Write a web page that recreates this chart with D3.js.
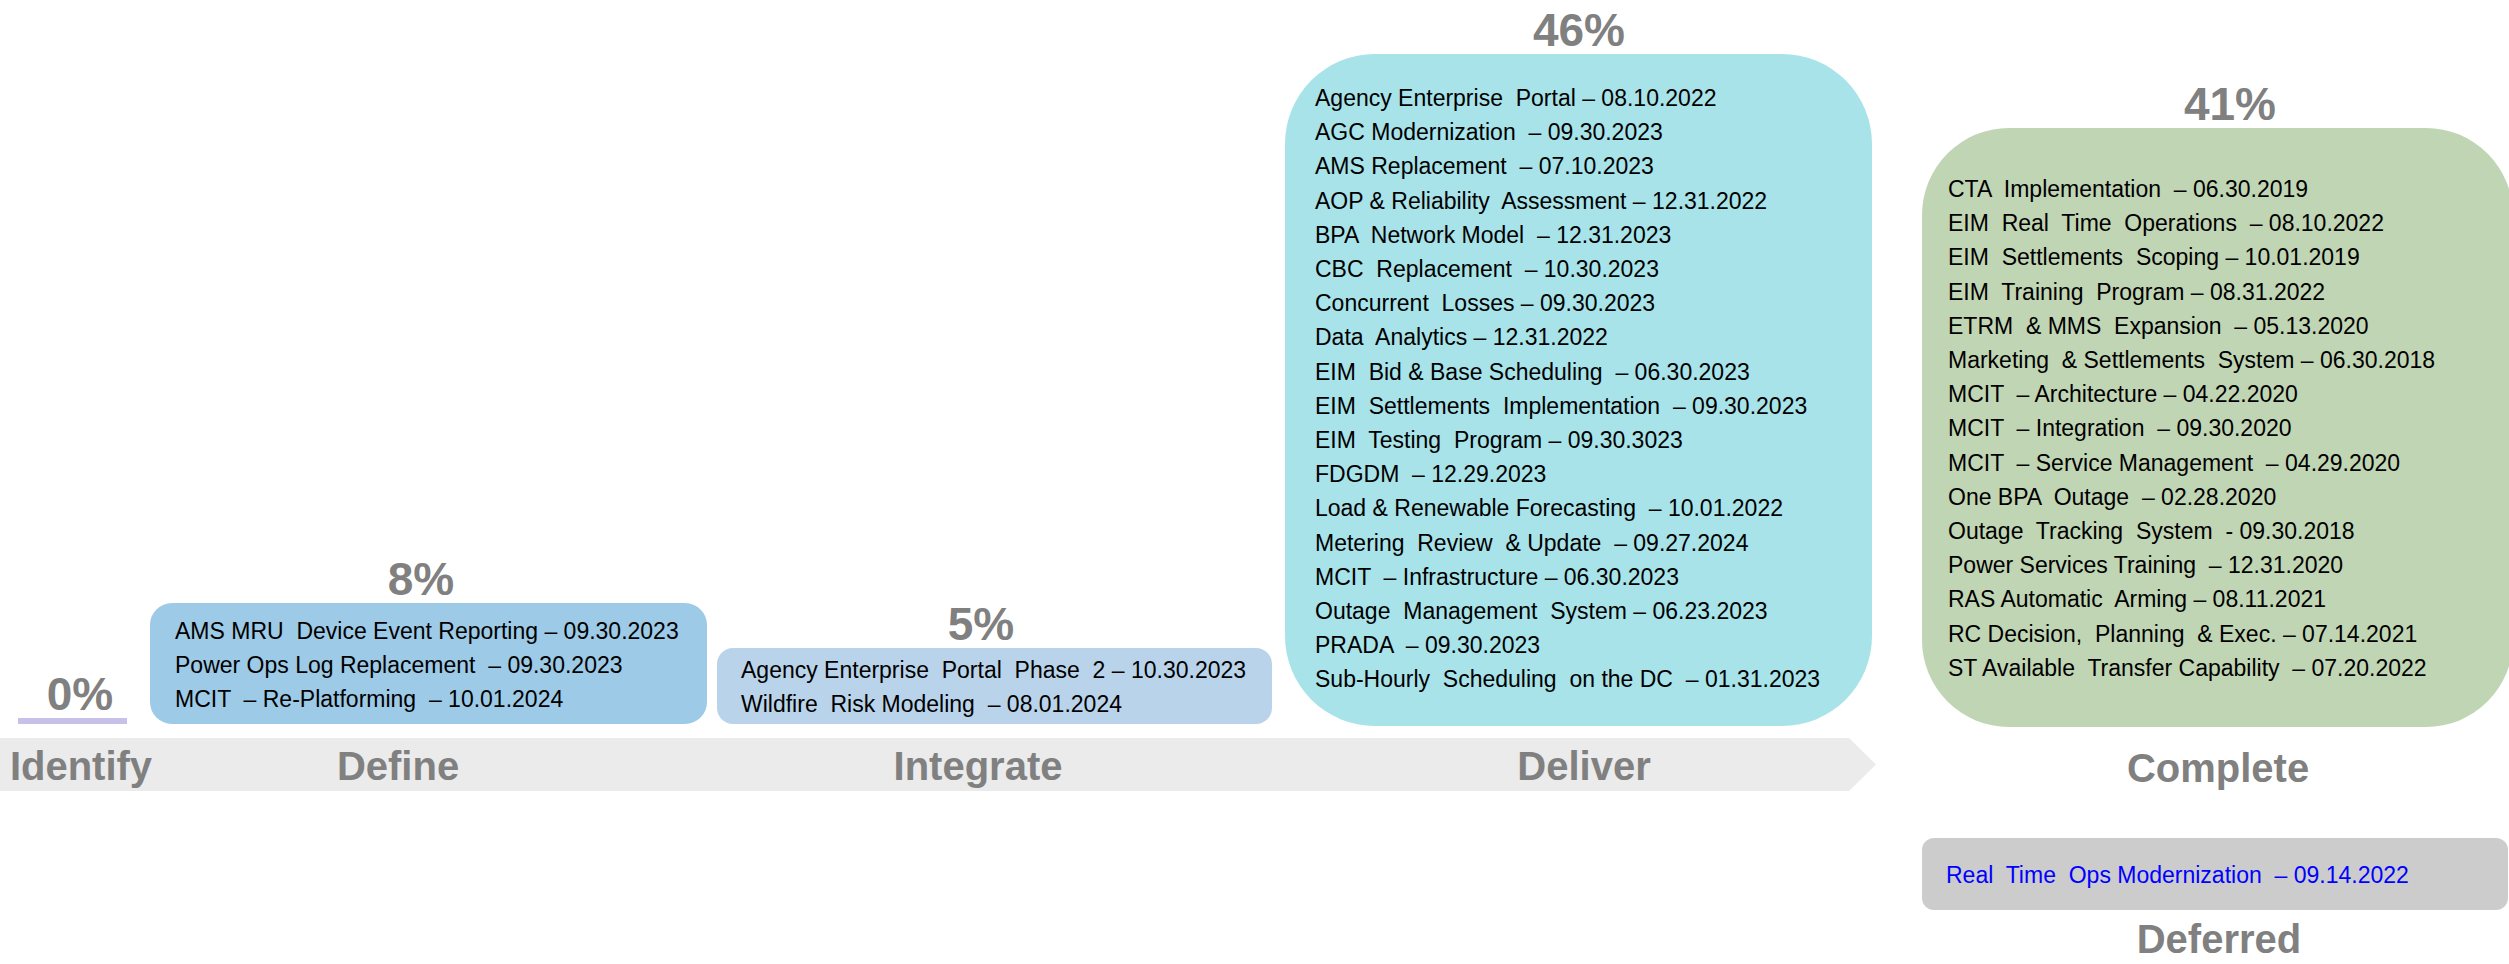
<!DOCTYPE html>
<html>
<head>
<meta charset="utf-8">
<script src="https://cdn.jsdelivr.net/npm/d3@7"></script>
<style>
  html, body { margin: 0; padding: 0; background: #ffffff; }
  svg { display: block; }
  text { font-family: "Liberation Sans", Arial, sans-serif; white-space: pre; }
</style>
</head>
<body>
<div id="chart"></div>
<script>
// ---------------- DATA ----------------
const stageNames = ["Identify", "Define", "Integrate", "Deliver", "Complete", "Deferred"];
const stagePercents = ["0%", "8%", "5%", "46%", "41%", ""];

const identifyItems = [];
const defineItems = [
  "AMS MRU  Device Event Reporting – 09.30.2023",
  "Power Ops Log Replacement  – 09.30.2023",
  "MCIT  – Re-Platforming  – 10.01.2024"
];
const integrateItems = [
  "Agency Enterprise  Portal  Phase  2 – 10.30.2023",
  "Wildfire  Risk Modeling  – 08.01.2024"
];
const deliverItems = [
  "Agency Enterprise  Portal – 08.10.2022",
  "AGC Modernization  – 09.30.2023",
  "AMS Replacement  – 07.10.2023",
  "AOP & Reliability  Assessment – 12.31.2022",
  "BPA  Network Model  – 12.31.2023",
  "CBC  Replacement  – 10.30.2023",
  "Concurrent  Losses – 09.30.2023",
  "Data  Analytics – 12.31.2022",
  "EIM  Bid & Base Scheduling  – 06.30.2023",
  "EIM  Settlements  Implementation  – 09.30.2023",
  "EIM  Testing  Program – 09.30.3023",
  "FDGDM  – 12.29.2023",
  "Load & Renewable Forecasting  – 10.01.2022",
  "Metering  Review  & Update  – 09.27.2024",
  "MCIT  – Infrastructure – 06.30.2023",
  "Outage  Management  System – 06.23.2023",
  "PRADA  – 09.30.2023",
  "Sub-Hourly  Scheduling  on the DC  – 01.31.2023"
];
const completeItems = [
  "CTA  Implementation  – 06.30.2019",
  "EIM  Real  Time  Operations  – 08.10.2022",
  "EIM  Settlements  Scoping – 10.01.2019",
  "EIM  Training  Program – 08.31.2022",
  "ETRM  & MMS  Expansion  – 05.13.2020",
  "Marketing  & Settlements  System – 06.30.2018",
  "MCIT  – Architecture – 04.22.2020",
  "MCIT  – Integration  – 09.30.2020",
  "MCIT  – Service Management  – 04.29.2020",
  "One BPA  Outage  – 02.28.2020",
  "Outage  Tracking  System  - 09.30.2018",
  "Power Services Training  – 12.31.2020",
  "RAS Automatic  Arming – 08.11.2021",
  "RC Decision,  Planning  & Exec. – 07.14.2021",
  "ST Available  Transfer Capability  – 07.20.2022"
];
const deferredItems = [
  "Real  Time  Ops Modernization  – 09.14.2022"
];
const stageItems = [identifyItems, defineItems, integrateItems, deliverItems, completeItems, deferredItems];

// ---------------- LAYOUT / STYLE ----------------
const W = 2509, H = 964;
const lineStep = 34.2;
const layout = {
  Identify:  { labelX: 81,   labelY: 780, pctX: 80,   marker: { x0: 18, x1: 127, y: 718, h: 6, fill: "#c7c0e8" } },
  Define:    { labelX: 398,  labelY: 780, pctX: 421,  box: { x0: 150,  x1: 707,  y0: 603, y1: 724, r: 22, fill: "#9dcae6" }, textX: 175,  firstBase: 639 },
  Integrate: { labelX: 978,  labelY: 780, pctX: 981,  box: { x0: 717,  x1: 1272, y0: 648, y1: 724, r: 16, fill: "#b9d4ea" }, textX: 741,  firstBase: 678 },
  Deliver:   { labelX: 1584, labelY: 780, pctX: 1579, box: { x0: 1285, x1: 1872, y0: 54,  y1: 726, r: 90, fill: "#a7e3e9" }, textX: 1315, firstBase: 106 },
  Complete:  { labelX: 2218, labelY: 782, pctX: 2230, box: { x0: 1922, x1: 2513, y0: 128, y1: 727, r: 87, fill: "#c0d5b4" }, textX: 1948, firstBase: 197 },
  Deferred:  { labelX: 2219, labelY: 953, pctX: 2219, box: { x0: 1922, x1: 2508, y0: 838, y1: 910, r: 12, fill: "#cccccc" }, textX: 1946, firstBase: 883, color: "#0000ff" }
};
const band = { x0: 0, x1: 1849, tip: 1876, y0: 738, y1: 791, fill: "#ebebeb" };
const grayText = "#808080";

// ---------------- DRAW ----------------
const svg = d3.select("#chart").append("svg").attr("width", W).attr("height", H);

// process arrow band
const bandPath = d3.path();
bandPath.moveTo(band.x0, band.y0);
bandPath.lineTo(band.x1, band.y0);
bandPath.lineTo(band.tip, (band.y0 + band.y1) / 2);
bandPath.lineTo(band.x1, band.y1);
bandPath.lineTo(band.x0, band.y1);
bandPath.closePath();
svg.append("path").attr("d", bandPath.toString()).attr("fill", band.fill);

const stages = stageNames.map((name, i) => ({ name, pct: stagePercents[i], items: stageItems[i], L: layout[name] }));

const g = svg.selectAll("g.stage").data(stages).join("g").attr("class", "stage");

// boxes
g.filter(d => d.L.box).append("rect")
  .attr("x", d => d.L.box.x0)
  .attr("y", d => d.L.box.y0)
  .attr("width", d => d.L.box.x1 - d.L.box.x0)
  .attr("height", d => d.L.box.y1 - d.L.box.y0)
  .attr("rx", d => d.L.box.r)
  .attr("ry", d => d.L.box.r)
  .attr("fill", d => d.L.box.fill);

// marker line for empty stage
g.filter(d => d.L.marker).append("rect")
  .attr("x", d => d.L.marker.x0)
  .attr("y", d => d.L.marker.y)
  .attr("width", d => d.L.marker.x1 - d.L.marker.x0)
  .attr("height", d => d.L.marker.h)
  .attr("fill", d => d.L.marker.fill);

// item texts
g.each(function (d) {
  if (!d.items.length) return;
  const sel = d3.select(this);
  const y = d3.scaleLinear().domain([0, 1]).range([d.L.firstBase, d.L.firstBase + lineStep]);
  sel.selectAll("text.item").data(d.items).join("text")
    .attr("class", "item")
    .attr("x", d.L.textX)
    .attr("y", (t, i) => y(i))
    .attr("font-size", 23)
    .attr("fill", d.L.color || "#000000")
    .text(t => t);
});

// percentages
g.filter(d => d.pct).append("text")
  .attr("x", d => d.L.pctX)
  .attr("y", d => (d.L.box ? d.L.box.y0 : d.L.marker.y) - 8)
  .attr("text-anchor", "middle")
  .attr("font-size", 46)
  .attr("font-weight", "bold")
  .attr("fill", grayText)
  .text(d => d.pct);

// stage labels
g.append("text")
  .attr("x", d => d.L.labelX)
  .attr("y", d => d.L.labelY)
  .attr("text-anchor", "middle")
  .attr("font-size", 40)
  .attr("font-weight", "bold")
  .attr("fill", grayText)
  .text(d => d.name);
</script>
</body>
</html>
